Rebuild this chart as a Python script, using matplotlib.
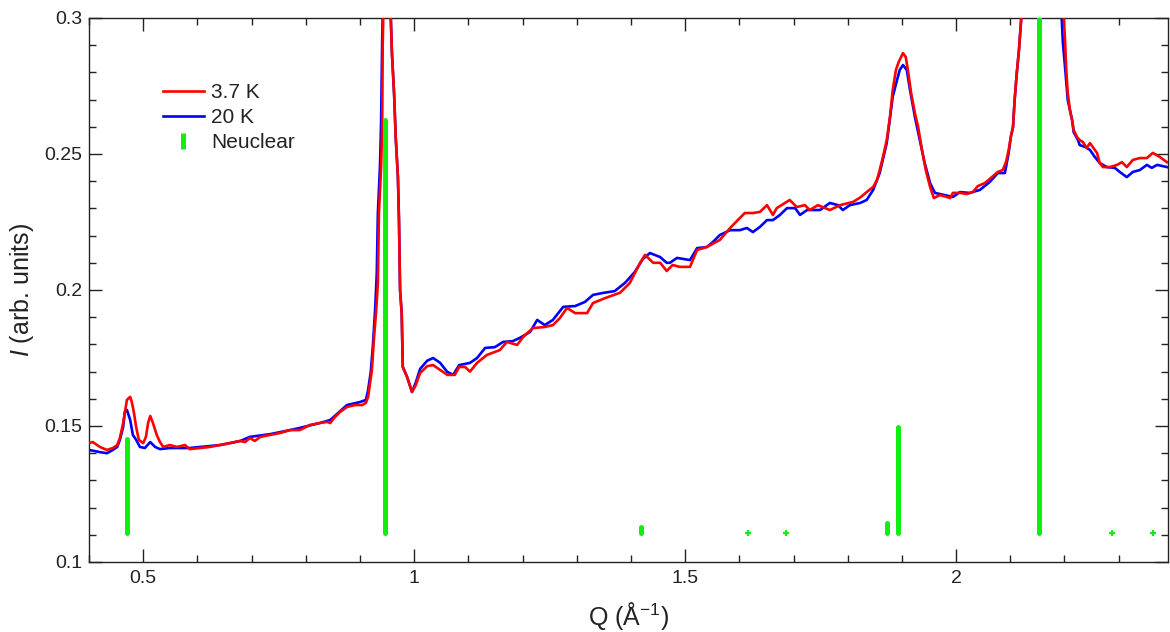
import matplotlib
matplotlib.use("Agg")
import matplotlib.pyplot as plt
from matplotlib.lines import Line2D
from matplotlib.ticker import MultipleLocator, FuncFormatter

# ---------------- data ----------------
q_red = [0.400, 0.407, 0.420, 0.433, 0.444, 0.452, 0.457, 0.463, 0.466, 0.470,
         0.476, 0.479, 0.483, 0.487, 0.492, 0.500, 0.505, 0.509, 0.513, 0.518,
         0.525, 0.531, 0.537, 0.549, 0.562, 0.577, 0.586, 0.605, 0.623, 0.642,
         0.660, 0.679, 0.688, 0.697, 0.706, 0.716, 0.734, 0.752, 0.771, 0.789,
         0.808, 0.826, 0.839, 0.845, 0.854, 0.863, 0.876, 0.891, 0.904, 0.911,
         0.915, 0.922, 0.926, 0.930, 0.933, 0.935, 0.939, 0.941, 0.942, 0.944,
         0.950, 0.955, 0.957, 0.959, 0.963, 0.966, 0.970, 0.972, 0.974, 0.977,
         0.979, 0.987, 0.996, 1.003, 1.011, 1.024, 1.035, 1.048, 1.061, 1.075,
         1.083, 1.094, 1.103, 1.116, 1.134, 1.158, 1.171, 1.190, 1.201, 1.219,
         1.241, 1.256, 1.269, 1.282, 1.297, 1.319, 1.330, 1.352, 1.380, 1.398,
         1.417, 1.426, 1.441, 1.454, 1.466, 1.477, 1.490, 1.509, 1.522, 1.540,
         1.564, 1.583, 1.601, 1.610, 1.625, 1.638, 1.651, 1.662, 1.669, 1.684,
         1.693, 1.706, 1.721, 1.730, 1.745, 1.767, 1.786, 1.810, 1.823, 1.835,
         1.847, 1.854, 1.859, 1.865, 1.872, 1.878, 1.883, 1.889, 1.894, 1.902,
         1.907, 1.911, 1.917, 1.924, 1.930, 1.937, 1.944, 1.952, 1.959, 1.970,
         1.983, 1.989, 1.994, 2.007, 2.020, 2.031, 2.040, 2.053, 2.066, 2.077,
         2.086, 2.092, 2.097, 2.101, 2.105, 2.108, 2.112, 2.116, 2.120, 2.125,
         2.140, 2.155, 2.170, 2.190, 2.199, 2.201, 2.203, 2.206, 2.210, 2.214,
         2.217, 2.223, 2.228, 2.234, 2.241, 2.247, 2.252, 2.260, 2.265, 2.271,
         2.284, 2.297, 2.306, 2.315, 2.326, 2.339, 2.352, 2.363, 2.376, 2.389]
i_red = [0.1437, 0.1441, 0.1423, 0.1412, 0.1419, 0.1430, 0.1456, 0.1511, 0.1548, 0.1596,
         0.1607, 0.1588, 0.1548, 0.1496, 0.1449, 0.1437, 0.1460, 0.1511, 0.1537, 0.1511,
         0.1467, 0.1441, 0.1423, 0.1430, 0.1423, 0.1430, 0.1415, 0.1419, 0.1423, 0.1430,
         0.1437, 0.1445, 0.1441, 0.1456, 0.1445, 0.1460, 0.1467, 0.1474, 0.1485, 0.1485,
         0.1504, 0.1511, 0.1515, 0.1511, 0.1533, 0.1551, 0.1570, 0.1577, 0.1577, 0.1585,
         0.1607, 0.1706, 0.1827, 0.1926, 0.2026, 0.2283, 0.2452, 0.2600, 0.2910, 0.3100,
         0.3400, 0.3150, 0.2993, 0.2870, 0.2720, 0.2560, 0.2416, 0.2257, 0.2000, 0.1915,
         0.1717, 0.1680, 0.1625, 0.1650, 0.1695, 0.1720, 0.1724, 0.1706, 0.1688, 0.1688,
         0.1717, 0.1717, 0.1700, 0.1732, 0.1761, 0.1779, 0.1809, 0.1798, 0.1827, 0.1860,
         0.1864, 0.1871, 0.1897, 0.1934, 0.1915, 0.1915, 0.1952, 0.1970, 0.1990, 0.2026,
         0.2100, 0.2129, 0.2100, 0.2100, 0.2070, 0.2092, 0.2085, 0.2085, 0.2147, 0.2158,
         0.2184, 0.2228, 0.2265, 0.2283, 0.2283, 0.2287, 0.2312, 0.2276, 0.2301, 0.2320,
         0.2331, 0.2305, 0.2312, 0.2294, 0.2312, 0.2294, 0.2312, 0.2324, 0.2340, 0.2360,
         0.2379, 0.2404, 0.2441, 0.2489, 0.2551, 0.2636, 0.2735, 0.2809, 0.2838, 0.2871,
         0.2857, 0.2809, 0.2724, 0.2650, 0.2599, 0.2515, 0.2441, 0.2379, 0.2338, 0.2349,
         0.2342, 0.2338, 0.2357, 0.2357, 0.2353, 0.2360, 0.2382, 0.2393, 0.2415, 0.2434,
         0.2441, 0.2470, 0.2515, 0.2563, 0.2599, 0.2699, 0.2798, 0.2882, 0.2993, 0.3200,
         0.3800, 0.4200, 0.3900, 0.3300, 0.2993, 0.2919, 0.2820, 0.2724, 0.2662, 0.2625,
         0.2588, 0.2563, 0.2551, 0.2544, 0.2522, 0.2540, 0.2526, 0.2504, 0.2467, 0.2452,
         0.2452, 0.2460, 0.2470, 0.2452, 0.2478, 0.2485, 0.2485, 0.2504, 0.2489, 0.2470]

q_blue = [0.400, 0.420, 0.433, 0.444, 0.452, 0.457, 0.463, 0.466, 0.470, 0.476,
          0.481, 0.487, 0.494, 0.503, 0.513, 0.522, 0.531, 0.549, 0.568, 0.586,
          0.605, 0.642, 0.679, 0.697, 0.734, 0.771, 0.789, 0.826, 0.845, 0.876,
          0.900, 0.911, 0.915, 0.920, 0.924, 0.928, 0.931, 0.933, 0.937, 0.939,
          0.941, 0.943, 0.950, 0.955, 0.957, 0.959, 0.963, 0.966, 0.970, 0.972,
          0.974, 0.977, 0.979, 0.987, 0.996, 1.003, 1.011, 1.024, 1.035, 1.048,
          1.061, 1.072, 1.083, 1.103, 1.116, 1.131, 1.149, 1.164, 1.182, 1.195,
          1.214, 1.227, 1.241, 1.256, 1.275, 1.297, 1.315, 1.330, 1.348, 1.370,
          1.389, 1.407, 1.422, 1.435, 1.454, 1.466, 1.472, 1.485, 1.509, 1.522,
          1.540, 1.551, 1.564, 1.583, 1.601, 1.614, 1.625, 1.638, 1.651, 1.662,
          1.675, 1.688, 1.703, 1.712, 1.725, 1.749, 1.767, 1.782, 1.791, 1.804,
          1.823, 1.835, 1.847, 1.859, 1.872, 1.883, 1.891, 1.896, 1.902, 1.909,
          1.915, 1.924, 1.933, 1.942, 1.952, 1.961, 1.979, 1.994, 2.007, 2.025,
          2.044, 2.062, 2.077, 2.090, 2.097, 2.101, 2.105, 2.108, 2.112, 2.116,
          2.120, 2.125, 2.140, 2.155, 2.170, 2.190, 2.197, 2.201, 2.206, 2.214,
          2.217, 2.225, 2.228, 2.238, 2.247, 2.256, 2.265, 2.278, 2.293, 2.302,
          2.315, 2.326, 2.339, 2.352, 2.361, 2.371, 2.389]
i_blue = [0.1412, 0.1404, 0.1400, 0.1412, 0.1423, 0.1449, 0.1496, 0.1551, 0.1559, 0.1522,
          0.1467, 0.1449, 0.1423, 0.1419, 0.1441, 0.1423, 0.1415, 0.1419, 0.1419, 0.1419,
          0.1423, 0.1430, 0.1445, 0.1460, 0.1470, 0.1485, 0.1493, 0.1511, 0.1522, 0.1577,
          0.1588, 0.1596, 0.1632, 0.1700, 0.1800, 0.1930, 0.2060, 0.2280, 0.2460, 0.2620,
          0.2920, 0.3100, 0.3350, 0.3150, 0.2993, 0.2870, 0.2720, 0.2560, 0.2416, 0.2257,
          0.2000, 0.1915, 0.1717, 0.1680, 0.1625, 0.1660, 0.1710, 0.1740, 0.1750, 0.1732,
          0.1699, 0.1688, 0.1724, 0.1732, 0.1750, 0.1787, 0.1790, 0.1809, 0.1812, 0.1824,
          0.1846, 0.1890, 0.1871, 0.1890, 0.1938, 0.1941, 0.1956, 0.1982, 0.1989, 0.1996,
          0.2026, 0.2066, 0.2114, 0.2136, 0.2121, 0.2100, 0.2100, 0.2118, 0.2110, 0.2154,
          0.2158, 0.2176, 0.2202, 0.2220, 0.2220, 0.2228, 0.2213, 0.2232, 0.2257, 0.2257,
          0.2276, 0.2301, 0.2301, 0.2276, 0.2294, 0.2294, 0.2320, 0.2312, 0.2294, 0.2312,
          0.2320, 0.2331, 0.2368, 0.2430, 0.2540, 0.2710, 0.2772, 0.2809, 0.2827, 0.2809,
          0.2735, 0.2636, 0.2551, 0.2467, 0.2393, 0.2357, 0.2349, 0.2342, 0.2360, 0.2357,
          0.2368, 0.2397, 0.2430, 0.2430, 0.2504, 0.2563, 0.2599, 0.2699, 0.2798, 0.2882,
          0.2993, 0.3200, 0.3800, 0.4100, 0.3850, 0.3200, 0.2910, 0.2820, 0.2699, 0.2625,
          0.2580, 0.2551, 0.2533, 0.2526, 0.2515, 0.2489, 0.2467, 0.2452, 0.2449, 0.2434,
          0.2415, 0.2434, 0.2441, 0.2460, 0.2449, 0.2460, 0.2452]

# nuclear Bragg positions and tick heights
q_nuc = [0.470, 0.946, 1.418, 1.872, 1.893, 2.153]
h_nuc = [0.1453, 0.2625, 0.1127, 0.1142, 0.1498, 0.3500]
q_nuc_weak = [1.616, 1.686, 2.287, 2.363]
nuc_base = 0.1105

labels = ["3.7 K", "20 K", "Neuclear"]

# ---------------- style ----------------
plt.rcParams["font.family"] = ["Liberation Sans", "DejaVu Sans"]
plt.rcParams["mathtext.fontset"] = "custom"
plt.rcParams["mathtext.rm"] = "Liberation Sans"
plt.rcParams["mathtext.it"] = "Liberation Sans:italic"
plt.rcParams["mathtext.bf"] = "Liberation Sans:bold"

RED = "#ff0000"
BLUE = "#0000ff"
GREEN = "#11ee11"
TXT = "#222222"

fig = plt.figure(figsize=(11.7, 6.32), dpi=100)
ax = fig.add_axes([89 / 1170, 70 / 632, 1079 / 1170, 544 / 632])

ax.vlines(q_nuc, nuc_base, h_nuc, colors=GREEN, linewidth=3.6, capstyle="round", zorder=4)
ax.plot(q_nuc_weak, [nuc_base] * len(q_nuc_weak), linestyle="None", marker="+",
        markersize=4, markeredgewidth=1.6, color=GREEN, zorder=4)
ax.plot(q_blue, i_blue, color=BLUE, linewidth=1.9, zorder=2)
ax.plot(q_red, i_red, color=RED, linewidth=1.9, zorder=3)

ax.set_xlim(0.4, 2.391)
ax.set_ylim(0.1, 0.3)

ax.xaxis.set_major_locator(MultipleLocator(0.5))
ax.xaxis.set_minor_locator(MultipleLocator(0.1))
ax.yaxis.set_major_locator(MultipleLocator(0.05))
ax.yaxis.set_minor_locator(MultipleLocator(0.01))
fmt = FuncFormatter(lambda v, p: "%g" % round(v, 3))
ax.xaxis.set_major_formatter(fmt)
ax.yaxis.set_major_formatter(fmt)

ax.tick_params(which="both", direction="in", top=True, right=True,
               colors="#222222", labelcolor=TXT, labelsize=14, width=1.0)
ax.tick_params(which="major", length=9.5)
ax.tick_params(which="minor", length=5)
ax.tick_params(axis="x", which="major", pad=6)
ax.tick_params(axis="y", which="major", pad=5)
for s in ax.spines.values():
    s.set_linewidth(1.0)
    s.set_color("#222222")

ax.set_xlabel("Q (Å$^{\\mathregular{-1}}$)", fontsize=18, color=TXT, labelpad=9)
ax.set_ylabel("$\\mathit{I}$ (arb. units)", fontsize=18, color=TXT, labelpad=6)

handles = [Line2D([], [], color=RED, linewidth=1.9),
           Line2D([], [], color=BLUE, linewidth=1.9),
           Line2D([], [], color=GREEN, marker="|", markersize=12,
                  markeredgewidth=3.6, linestyle="None")]
ax.legend(handles, labels, loc="upper left", bbox_to_anchor=(0.059, 0.899),
          frameon=False, fontsize=15, borderpad=0, handlelength=1.95,
          handletextpad=0.35, labelspacing=0.28, labelcolor=TXT)

fig.savefig("out.png", dpi=100)
